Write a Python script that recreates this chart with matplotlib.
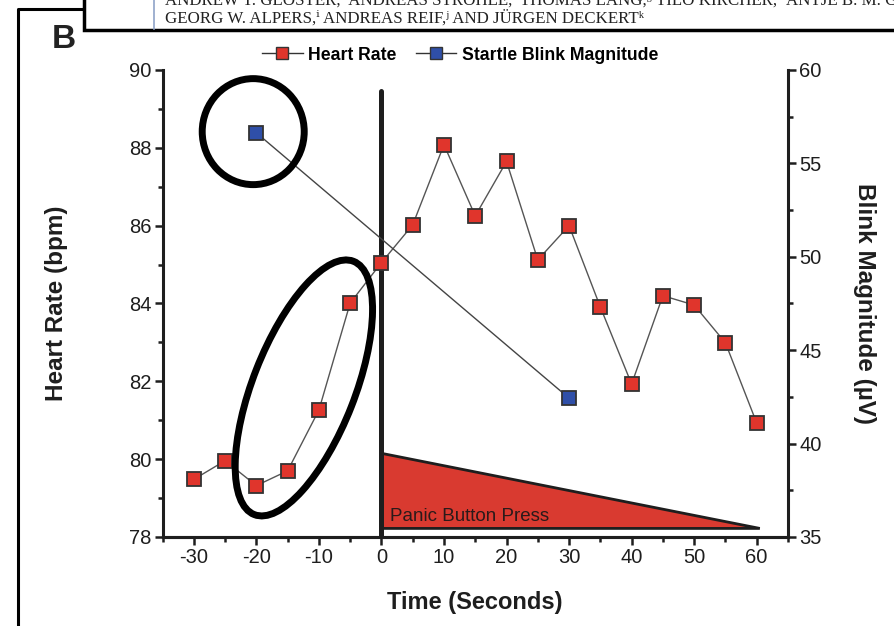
import matplotlib
matplotlib.use("Agg")
import matplotlib.pyplot as plt
from matplotlib.patches import Ellipse, Polygon, Rectangle
from matplotlib.ticker import MultipleLocator
from matplotlib.transforms import ScaledTranslation
from matplotlib.lines import Line2D

plt.rcParams["font.family"] = ["Liberation Sans", "DejaVu Sans"]
plt.rcParams["axes.unicode_minus"] = False

# ---------------- data ----------------
time_s = [-30, -25, -20, -15, -10, -5, 0, 5, 10, 15, 20, 25, 30, 35, 40, 45, 50, 55, 60]
heart_rate = [79.48, 79.96, 79.32, 79.70, 81.26, 84.01, 85.05, 86.02, 88.08, 86.25,
              87.65, 85.12, 86.00, 83.91, 81.93, 84.20, 83.96, 82.99, 80.93]

blink_time = [-20, 30]
blink_mag = [56.64, 42.43]

# panic button wedge (time, bpm)
press_time = [0, 60.5, 0]
press_bpm = [80.15, 78.22, 78.22]
press_line_top = 89.45

red = "#e0352c"
blue = "#2f4fa8"
dark = "#1e1e1e"

fig = plt.figure(figsize=(8.95, 6.26), dpi=100)
ax = fig.add_axes([0.1816, 0.1422, 0.6988, 0.746])
ax2 = ax.twinx()

# heart rate
ax.plot(time_s, heart_rate, color="#555555", lw=1.0, marker="s", ms=9.5,
        mfc=red, mec="#333333", mew=1.3, zorder=4)

# panic button press wedge + vertical line
ax.add_patch(Polygon(list(zip(press_time, press_bpm)), closed=True,
                     facecolor="#d93a30", edgecolor=dark, lw=2.0, zorder=2))
ax.plot([0, 0], [78, press_line_top], color=dark, lw=3.6, solid_capstyle="round", zorder=3)
ax.text(1.3, 78.42, "Panic Button Press", fontsize=13.5, color="#2a1a1a", zorder=5)

# blink
ax2.plot(blink_time, blink_mag, color="#444444", lw=1.0, marker="s", ms=9.5,
         mfc=blue, mec="#333333", mew=1.3, zorder=4)

ax.set_xlim(-35, 65)
ax.set_ylim(78, 90)
ax2.set_ylim(35, 60)

ax.xaxis.set_major_locator(MultipleLocator(10))
ax.xaxis.set_minor_locator(MultipleLocator(5))
ax.yaxis.set_major_locator(MultipleLocator(2))
ax.yaxis.set_minor_locator(MultipleLocator(1))
ax2.yaxis.set_major_locator(MultipleLocator(5))
ax2.yaxis.set_minor_locator(MultipleLocator(2.5))

for a in (ax, ax2):
    a.spines["top"].set_visible(False)
    for s in a.spines.values():
        s.set_linewidth(2.2)
        s.set_color(dark)
    a.tick_params(which="major", direction="out", length=6, width=1.8,
                  labelsize=14.5, colors=dark, pad=2)
    a.tick_params(which="minor", direction="out", length=3.5, width=1.8, colors=dark)
ax.spines["right"].set_visible(False)
ax2.spines["left"].set_visible(False)

ax.set_xlabel("Time (Seconds)", fontsize=17, fontweight="bold", color=dark)
ax.xaxis.set_label_coords(0.5, -0.115)
ax.set_ylabel("Heart Rate (bpm)", fontsize=17.5, fontweight="bold", color=dark)
ax.yaxis.set_label_coords(-0.151, 0.5)
ax2.set_ylabel("Blink Magnitude (\u00b5V)", fontsize=17.5, fontweight="bold", color=dark,
               rotation=-90, va="center")
ax2.yaxis.set_label_coords(1.123, 0.5)

# legend
handles = [Line2D([], [], color="#333333", lw=1.0, marker="s", ms=8, mfc=red, mec="#333333"),
           Line2D([], [], color="#333333", lw=1.0, marker="s", ms=8, mfc=blue, mec="#333333")]
fig.legend(handles, ["Heart Rate", "Startle Blink Magnitude"], ncol=2, frameon=False,
           loc="center", bbox_to_anchor=(0.514, 0.912), handlelength=2.3,
           handletextpad=0.3, columnspacing=1.1, prop={"weight": "bold", "size": 12.7})

# hand drawn ellipses (size in inches, centred on data positions)
circ_tr = fig.dpi_scale_trans + ScaledTranslation(-20.5, 56.7, ax2.transData)
ax2.add_patch(Ellipse((0, 0), 1.02, 1.06, fill=False, lw=5, ec="black",
                      transform=circ_tr, clip_on=False, zorder=6))
ell_tr = fig.dpi_scale_trans + ScaledTranslation(-12.4, 81.83, ax.transData)
ax2.add_patch(Ellipse((0, 0), 2.72, 1.02, angle=68.6, fill=False, lw=5, ec="black",
                      transform=ell_tr, clip_on=False, zorder=6))

# panel letter and page frame
fig.text(52 / 895, 1 - 40 / 626, "B", fontsize=24, fontweight="bold", color="#222222",
         va="center")
fig.add_artist(Line2D([18 / 895, 18 / 895, 84 / 895], [0, 1 - 9 / 626, 1 - 9 / 626],
                      transform=fig.transFigure, color="black", lw=2.2))

# header box from the page above
fig.add_artist(Rectangle((84 / 895, 1 - 30 / 626), 0.95, 0.1, transform=fig.transFigure,
                         facecolor="white", edgecolor="black", lw=2.5, zorder=10))
fig.add_artist(Line2D([154 / 895, 154 / 895], [1 - 29 / 626, 1], transform=fig.transFigure,
                      color="#8fa3c8", lw=1.2, zorder=11))
fig.text(165 / 895, 1 - 5 / 626,
         "ANDREW T. GLOSTER,\u1d49 ANDREAS STR\u00d6HLE,\u1da0 THOMAS LANG,\u1d4d TILO KIRCHER,\u02b0 ANTJE B. M. GERLACH,",
         family=["Liberation Serif", "DejaVu Serif"], fontsize=12.2, color="#222222",
         va="baseline", zorder=12)
fig.text(165 / 895, 1 - 23 / 626,
         "GEORG W. ALPERS,\u2071 ANDREAS REIF,\u02b2 AND J\u00dcRGEN DECKERT\u1d4f",
         family=["Liberation Serif", "DejaVu Serif"], fontsize=12.2, color="#222222",
         va="baseline", zorder=12)

plt.savefig("out.png", dpi=100)
